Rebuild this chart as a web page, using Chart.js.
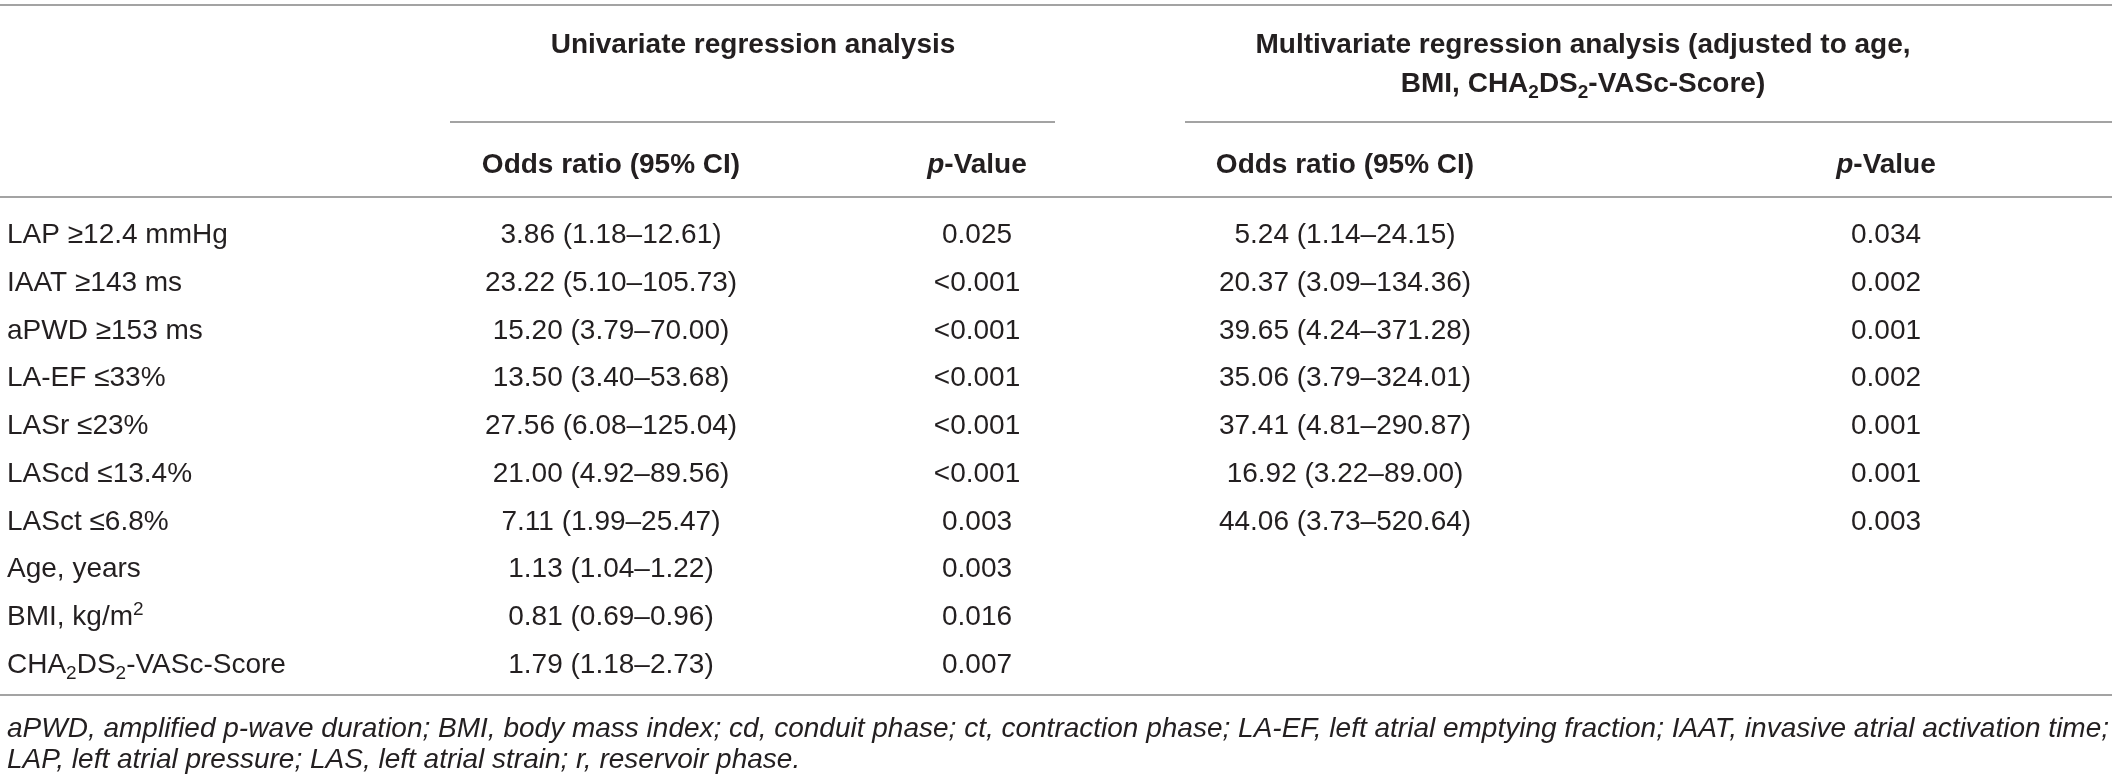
<!DOCTYPE html>
<html>
<head>
<meta charset="utf-8">
<title>Regression analysis table</title>
<script src="https://cdn.jsdelivr.net/npm/chart.js@4.4.1/dist/chart.umd.min.js"></script>
<style>
  html, body { margin: 0; padding: 0; background: #fff; }
  #wrap { width: 2118px; height: 781px; position: relative; }
</style>
</head>
<body>
<div id="wrap"><canvas id="table-chart"></canvas></div>
<script>
// Table contents (^x = superscript, _x = subscript, *..* = italic)
var variables = [
  "LAP ≥12.4 mmHg", "IAAT ≥143 ms", "aPWD ≥153 ms", "LA-EF ≤33%", "LASr ≤23%",
  "LAScd ≤13.4%", "LASct ≤6.8%", "Age, years", "BMI, kg/m^2", "CHA_2DS_2-VASc-Score"
];
var uniOdds = [
  "3.86 (1.18–12.61)", "23.22 (5.10–105.73)", "15.20 (3.79–70.00)", "13.50 (3.40–53.68)",
  "27.56 (6.08–125.04)", "21.00 (4.92–89.56)", "7.11 (1.99–25.47)", "1.13 (1.04–1.22)",
  "0.81 (0.69–0.96)", "1.79 (1.18–2.73)"
];
var uniP = ["0.025", "<0.001", "<0.001", "<0.001", "<0.001", "<0.001", "0.003", "0.003", "0.016", "0.007"];
var multiOdds = [
  "5.24 (1.14–24.15)", "20.37 (3.09–134.36)", "39.65 (4.24–371.28)", "35.06 (3.79–324.01)",
  "37.41 (4.81–290.87)", "16.92 (3.22–89.00)", "44.06 (3.73–520.64)"
];
var multiP = ["0.034", "0.002", "0.001", "0.002", "0.001", "0.001", "0.003"];

var groupHeaders = ["Univariate regression analysis"];
var multiHeaderLines = [
  "Multivariate regression analysis (adjusted to age,",
  "BMI, CHA_2DS_2-VASc-Score)"
];
var columnHeaders = ["Odds ratio (95% CI)", "*p*-Value", "Odds ratio (95% CI)", "*p*-Value"];
var footnotes = [
  "aPWD, amplified p-wave duration; BMI, body mass index; cd, conduit phase; ct, contraction phase; LA-EF, left atrial emptying fraction; IAAT, invasive atrial activation time;",
  "LAP, left atrial pressure; LAS, left atrial strain; r, reservoir phase."
];

// layout: column anchors on the x scale, header / rule rows on the y scale (row units)
var colX = { label: 7, uniOdds: 611, uniP: 977, multiOdds: 1345, multiP: 1886, uniHead: 753, multiHead: 1583 };
var rowY = { head1: -3.98, head2: -3.16, colHead: -1.466, foot1: 10.346, foot2: 10.995 };
var ruleColor = "#a3a3a3";
var textColor = "#231f20";
var fontFamily = "'Liberation Sans', Arial, sans-serif";

function rows(n) {
  var out = [];
  for (var i = 0; i < n; i++) out.push(i);
  return out;
}

function textSet(texts, x, ys, opts) {
  return {
    type: "scatter",
    data: texts.map(function (t, i) { return { x: Array.isArray(x) ? x[i] : x, y: ys[i] }; }),
    texts: texts,
    align: opts.align || "center",
    size: opts.size || 28,
    weight: opts.weight || "normal",
    italic: !!opts.italic,
    pointRadius: 0,
    pointHoverRadius: 0
  };
}

function ruleSet(x0, x1, y) {
  return {
    type: "line",
    data: [{ x: x0, y: y }, { x: x1, y: y }],
    borderColor: ruleColor,
    borderWidth: 2,
    pointRadius: 0,
    fill: false
  };
}

// split "CHA_2DS_2" style strings into runs
function parseRich(str, baseItalic) {
  var runs = [];
  var italic = baseItalic;
  var buf = "";
  function flush() { if (buf) { runs.push({ t: buf, mode: "n", italic: italic }); buf = ""; } }
  for (var i = 0; i < str.length; i++) {
    var c = str[i];
    if (c === "*") { flush(); italic = !italic; }
    else if ((c === "_" || c === "^") && i + 1 < str.length) {
      flush();
      runs.push({ t: str[i + 1], mode: c === "_" ? "sub" : "sup", italic: italic });
      i++;
    } else buf += c;
  }
  flush();
  return runs;
}

function fontFor(run, ds) {
  var size = run.mode === "n" ? ds.size : Math.round(ds.size * 0.68);
  return (run.italic ? "italic " : "") + ds.weight + " " + size + "px " + fontFamily;
}

var tableText = {
  id: "tableText",
  afterDatasetsDraw: function (chart) {
    var ctx = chart.ctx;
    chart.data.datasets.forEach(function (ds, di) {
      if (!ds.texts) return;
      var meta = chart.getDatasetMeta(di);
      ds.texts.forEach(function (txt, i) {
        var el = meta.data[i];
        if (!el) return;
        var runs = parseRich(txt, ds.italic);
        ctx.save();
        var total = 0;
        runs.forEach(function (r) {
          ctx.font = fontFor(r, ds);
          r.w = ctx.measureText(r.t).width;
          total += r.w;
        });
        var x = ds.align === "left" ? el.x : el.x - total / 2;
        var base = el.y + ds.size * 0.36;
        ctx.fillStyle = textColor;
        ctx.textBaseline = "alphabetic";
        ctx.textAlign = "left";
        runs.forEach(function (r) {
          ctx.font = fontFor(r, ds);
          var dy = r.mode === "sub" ? ds.size * 0.22 : r.mode === "sup" ? -ds.size * 0.36 : 0;
          ctx.fillText(r.t, x, base + dy);
          x += r.w;
        });
        ctx.restore();
      });
    });
  }
};

var datasets = [
  ruleSet(0, 2112, -4.775),
  ruleSet(450, 1055, -2.325),
  ruleSet(1185, 2112, -2.325),
  ruleSet(0, 2112, -0.754),
  ruleSet(0, 2112, 9.675),
  textSet(groupHeaders, colX.uniHead, [rowY.head1], { weight: "bold" }),
  textSet(multiHeaderLines, colX.multiHead, [rowY.head1, rowY.head2], { weight: "bold" }),
  textSet(columnHeaders, [colX.uniOdds, colX.uniP, colX.multiOdds, colX.multiP],
    [rowY.colHead, rowY.colHead, rowY.colHead, rowY.colHead], { weight: "bold" }),
  textSet(variables, colX.label, rows(variables.length), { align: "left" }),
  textSet(uniOdds, colX.uniOdds, rows(uniOdds.length), {}),
  textSet(uniP, colX.uniP, rows(uniP.length), {}),
  textSet(multiOdds, colX.multiOdds, rows(multiOdds.length), {}),
  textSet(multiP, colX.multiP, rows(multiP.length), {}),
  textSet(footnotes, colX.label, [rowY.foot1, rowY.foot2], { align: "left", italic: true, size: 28 })
];

var ctx = document.getElementById("table-chart").getContext("2d");
var tableChart = new Chart(ctx, {
  type: "scatter",
  data: { datasets: datasets },
  options: {
    responsive: true,
    maintainAspectRatio: false,
    animation: false,
    devicePixelRatio: 1,
    layout: { padding: 0 },
    plugins: { legend: { display: false }, tooltip: { enabled: false } },
    events: [],
    scales: {
      x: { type: "linear", display: false, min: 0, max: 2118 },
      y: { type: "linear", display: false, reverse: true, min: -4.8796, max: 11.476 }
    }
  },
  plugins: [tableText]
});
</script>
</body>
</html>
